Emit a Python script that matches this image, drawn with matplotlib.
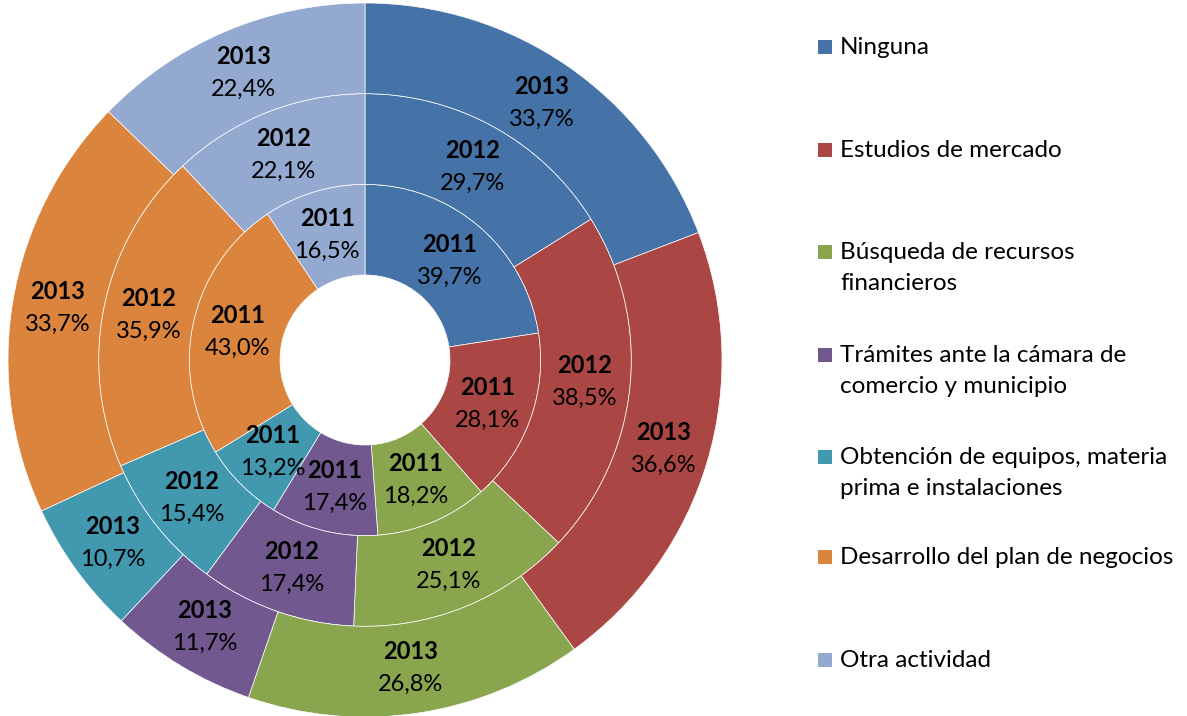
import matplotlib
matplotlib.use('Agg')
import matplotlib.pyplot as plt
from matplotlib.patches import Rectangle
import numpy as np

plt.rcParams['font.family'] = ['Lato', 'DejaVu Sans']

categories = ['Ninguna', 'Estudios de mercado', 'Búsqueda de recursos\nfinancieros',
              'Trámites ante la cámara de\ncomercio y municipio',
              'Obtención de equipos, materia\nprima e instalaciones',
              'Desarrollo del plan de negocios', 'Otra actividad']
colors = ['#4572A7', '#AA4643', '#89A54E', '#71588F', '#4198AF', '#DB843D', '#93A9CF']
years = ['2011', '2012', '2013']
v2011 = [39.7, 28.1, 18.2, 17.4, 13.2, 43.0, 16.5]
v2012 = [29.7, 38.5, 25.1, 17.4, 15.4, 35.9, 22.1]
v2013 = [33.7, 36.6, 26.8, 11.7, 10.7, 33.7, 22.4]
series = [v2011, v2012, v2013]

fig = plt.figure(figsize=(11.87, 7.16), dpi=100)
px = 357.0  # pixels per data unit
ax = fig.add_axes([0, 0, 730 / 1187, 1])
ax.axis('off')

hole = 85 / px
width = (1.0 - hole) / 3
for i, (yr, vals) in enumerate(zip(years, series)):
    r_out = hole + width * (i + 1)
    wedges, _ = ax.pie(vals, radius=r_out, colors=colors, startangle=90,
                       counterclock=False,
                       wedgeprops=dict(width=width, edgecolor='white', linewidth=0.5))
    r_mid = r_out - width / 2
    for w, v in zip(wedges, vals):
        ang = np.deg2rad((w.theta1 + w.theta2) / 2)
        x, y = r_mid * np.cos(ang), r_mid * np.sin(ang)
        ax.text(x, y + 0.046, yr, ha='center', va='center', fontsize=17,
                fontweight='bold', color='black')
        ax.text(x, y - 0.046, ('%.1f%%' % v).replace('.', ','), ha='center',
                va='center', fontsize=17, color='black')
ax.set_xlim(-365 / px, 365 / px)
ax.set_ylim(-356 / px, 360 / px)

# legend
W, H = 1187.0, 716.0
ys = [47, 150, 252, 355, 457, 557, 660]
for lab, c, yp in zip(categories, colors, ys):
    fig.patches.append(Rectangle((818 / W, 1 - (yp + 7) / H), 14 / W, 14 / H,
                                 transform=fig.transFigure, facecolor=c,
                                 edgecolor='none'))
    fig.text(840 / W, 1 - (yp - 10) / H, lab, ha='left', va='top',
             fontsize=17.5, linespacing=1.6, color='black')

fig.savefig('out.png', dpi=100)
